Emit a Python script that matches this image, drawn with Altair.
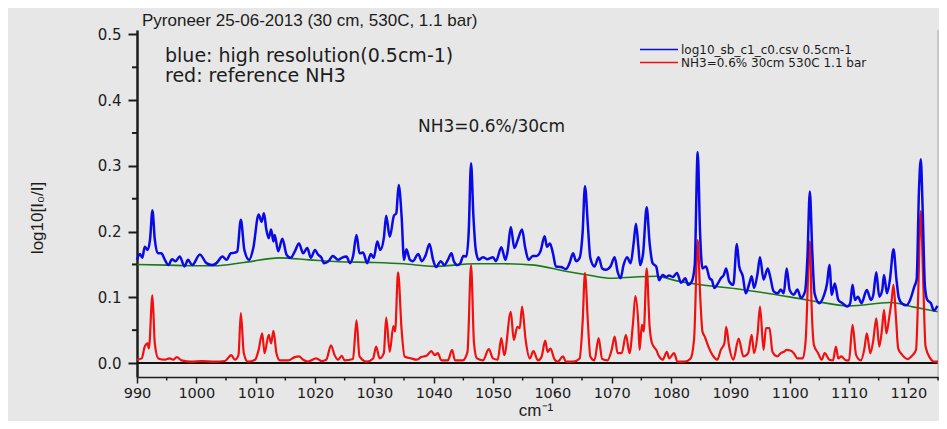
import altair as alt
import pandas as pd

# ---------------- data ----------------
blue_x = [990.0, 990.5, 990.9, 991.3, 991.8, 992.2, 992.6, 993.0, 993.5, 994.1, 994.7, 995.3, 995.9, 996.5,
          997.2, 998.0, 998.6, 999.3, 1000.6, 1001.7, 1002.7, 1003.4, 1004.4, 1005.1, 1005.8, 1006.5, 1006.9,
          1007.5, 1008.1, 1008.9, 1009.6, 1010.5, 1011.0, 1011.4, 1011.8, 1012.2, 1012.6, 1013.0, 1013.2,
          1013.8, 1014.5, 1015.2, 1015.9, 1016.6, 1017.3, 1018.0, 1018.7, 1019.3, 1020.0, 1020.5, 1021.1,
          1021.5, 1022.3, 1023.0, 1023.9, 1024.5, 1025.3, 1025.9, 1026.4, 1027.0, 1027.5, 1028.1, 1028.8,
          1029.4, 1029.9, 1030.5, 1031.0, 1031.6, 1032.0, 1032.6, 1033.3, 1033.7, 1034.1, 1034.6, 1035.0,
          1035.4, 1036.0, 1036.5, 1037.4, 1038.0, 1038.6, 1039.3, 1039.9, 1040.4, 1041.2, 1041.8, 1042.4,
          1043.0, 1043.4, 1044.0, 1044.5, 1045.0, 1045.5, 1045.9, 1046.3, 1046.7, 1047.1, 1047.6, 1048.3,
          1049.1, 1050.0, 1050.5, 1051.4, 1052.1, 1052.5, 1053.0, 1053.6, 1054.2, 1054.9, 1055.4, 1056.0,
          1056.7, 1057.4, 1058.0, 1058.7, 1059.1, 1059.6, 1060.1, 1060.6, 1061.5, 1062.3, 1062.9, 1063.5,
          1064.0, 1064.6, 1065.1, 1065.5, 1066.0, 1066.4, 1067.1, 1067.8, 1068.4, 1069.0, 1069.8, 1070.5,
          1071.0, 1071.5, 1072.0, 1072.6, 1073.2, 1073.7, 1074.1, 1074.5, 1074.8, 1075.3, 1075.9, 1076.4,
          1076.9, 1077.5, 1078.0, 1078.6, 1079.2, 1079.7, 1080.3, 1081.0, 1081.7, 1082.4, 1082.9, 1083.5,
          1084.0, 1084.5, 1084.9, 1085.3, 1085.9, 1086.5, 1086.9, 1087.3, 1087.9, 1088.4, 1088.9, 1089.3,
          1089.8, 1090.5, 1091.1, 1091.5, 1092.1, 1092.6, 1093.2, 1093.6, 1094.0, 1094.6, 1095.0, 1095.6,
          1096.3, 1096.7, 1097.3, 1098.0, 1098.5, 1099.0, 1099.5, 1100.0, 1100.7, 1101.3, 1101.9, 1102.6,
          1103.0, 1103.4, 1103.8, 1104.2, 1105.0, 1105.7, 1106.3, 1106.7, 1107.1, 1107.6, 1108.2, 1108.9,
          1109.7, 1110.2, 1110.6, 1111.0, 1111.5, 1112.1, 1113.0, 1113.7, 1114.1, 1114.6, 1115.1, 1115.6,
          1115.9, 1116.4, 1116.9, 1117.5, 1118.0, 1118.4, 1119.0, 1119.7, 1120.3, 1121.0, 1121.4, 1121.8,
          1122.1, 1122.4, 1122.8, 1123.2, 1123.8, 1124.3, 1124.9]
blue_y = [0.157, 0.166, 0.160, 0.177, 0.172, 0.188, 0.232, 0.188, 0.167, 0.167, 0.157, 0.149, 0.158, 0.155,
          0.162, 0.147, 0.157, 0.149, 0.165, 0.152, 0.149, 0.152, 0.162, 0.157, 0.167, 0.168, 0.170,
          0.218, 0.172, 0.157, 0.175, 0.226, 0.215, 0.228, 0.203, 0.190, 0.203, 0.185, 0.195,
          0.170, 0.189, 0.165, 0.160, 0.170, 0.182, 0.167, 0.175, 0.160, 0.172, 0.165, 0.160,
          0.152, 0.155, 0.163, 0.157, 0.160, 0.162, 0.152, 0.162, 0.195, 0.167, 0.168, 0.152,
          0.166, 0.160, 0.185, 0.172, 0.190, 0.224, 0.192, 0.224, 0.228, 0.271, 0.223, 0.157,
          0.173, 0.157, 0.155, 0.166, 0.155, 0.163, 0.181, 0.157, 0.146, 0.155, 0.149, 0.157,
          0.167, 0.155, 0.149, 0.152, 0.163, 0.162, 0.198, 0.304, 0.223, 0.172, 0.157, 0.161,
          0.158, 0.161, 0.155, 0.176, 0.157, 0.172, 0.207, 0.175, 0.188, 0.203, 0.177, 0.157,
          0.163, 0.163, 0.170, 0.193, 0.177, 0.182, 0.167, 0.147, 0.146, 0.143, 0.152, 0.167,
          0.155, 0.160, 0.198, 0.269, 0.208, 0.160, 0.147, 0.161, 0.144, 0.142, 0.147, 0.161,
          0.139, 0.129, 0.149, 0.161, 0.152, 0.182, 0.212, 0.177, 0.149, 0.167, 0.237, 0.182,
          0.152, 0.147, 0.126, 0.134, 0.131, 0.133, 0.131, 0.137, 0.122, 0.129, 0.119, 0.124,
          0.149, 0.321, 0.198, 0.144, 0.147, 0.129, 0.126, 0.114, 0.121, 0.129, 0.134, 0.144,
          0.124, 0.119, 0.181, 0.147, 0.132, 0.106, 0.121, 0.132, 0.114, 0.137, 0.161, 0.127,
          0.144, 0.132, 0.109, 0.106, 0.112, 0.106, 0.144, 0.111, 0.104, 0.112, 0.099, 0.109,
          0.162, 0.261, 0.172, 0.106, 0.091, 0.101, 0.121, 0.149, 0.104, 0.121, 0.096, 0.091,
          0.086, 0.091, 0.119, 0.096, 0.101, 0.091, 0.111, 0.096, 0.104, 0.138, 0.101, 0.111,
          0.134, 0.106, 0.127, 0.173, 0.127, 0.099, 0.090, 0.088, 0.096, 0.116, 0.127, 0.264,
          0.310, 0.238, 0.116, 0.096, 0.091, 0.080, 0.087]

red_x = [990.0, 990.8, 991.3, 991.8, 992.0, 992.6, 993.0, 993.6, 994.7, 995.5, 996.1, 996.7, 997.5, 999.2,
         1000.9, 1003.1, 1004.8, 1005.9, 1006.5, 1007.1, 1007.5, 1008.0, 1008.7, 1009.9, 1010.5, 1011.1,
         1011.5, 1012.2, 1012.6, 1013.0, 1013.5, 1014.1, 1015.5, 1016.6, 1017.3, 1018.0, 1018.8, 1020.2,
         1021.1, 1021.9, 1022.7, 1023.3, 1023.9, 1024.5, 1025.0, 1026.4, 1027.0, 1027.5, 1028.7, 1029.8,
         1030.3, 1030.9, 1031.6, 1032.0, 1032.6, 1033.2, 1033.5, 1034.0, 1034.6, 1035.1, 1036.2, 1037.1,
         1037.9, 1038.8, 1039.6, 1040.2, 1040.7, 1041.3, 1042.4, 1043.1, 1043.6, 1044.9, 1045.7, 1046.3,
         1046.8, 1047.3, 1048.3, 1049.3, 1050.0, 1050.8, 1051.4, 1051.9, 1053.0, 1053.5, 1054.1, 1054.5,
         1054.9, 1055.5, 1056.2, 1056.8, 1057.6, 1058.2, 1058.8, 1059.2, 1059.7, 1060.3, 1060.9, 1061.8,
         1062.3, 1063.5, 1064.6, 1065.1, 1065.5, 1066.0, 1066.4, 1067.1, 1067.8, 1068.4, 1069.3, 1070.0,
         1070.5, 1071.0, 1071.7, 1072.4, 1073.0, 1073.6, 1074.0, 1074.5, 1074.7, 1075.1, 1075.4, 1075.9,
         1076.4, 1076.8, 1077.5, 1078.0, 1078.6, 1079.3, 1079.7, 1080.5, 1081.1, 1082.3, 1083.3, 1083.9,
         1084.5, 1084.9, 1085.3, 1085.7, 1086.3, 1087.0, 1087.8, 1088.4, 1089.0, 1089.3, 1089.8, 1090.5,
         1091.4, 1092.2, 1093.0, 1093.6, 1094.0, 1094.6, 1095.0, 1095.6, 1096.0, 1096.6, 1097.1, 1097.9,
         1098.5, 1099.0, 1099.5, 1100.1, 1100.7, 1101.3, 1102.2, 1102.7, 1103.4, 1103.7, 1104.1, 1104.8,
         1105.4, 1105.9, 1106.7, 1107.3, 1107.8, 1108.2, 1108.7, 1109.5, 1110.0, 1110.6, 1111.2, 1112.0,
         1112.6, 1113.0, 1113.6, 1114.1, 1114.6, 1115.1, 1115.6, 1115.9, 1116.3, 1116.8, 1117.2, 1117.5,
         1117.9, 1118.3, 1119.0, 1119.9, 1120.5, 1121.3, 1121.6, 1122.1, 1122.5, 1122.9, 1123.7, 1124.3,
         1125.0]
red_y = [0.005, 0.007, 0.025, 0.030, 0.022, 0.103, 0.030, 0.007, 0.005, 0.007, 0.005, 0.009, 0.004, 0.002,
         0.003, 0.002, 0.003, 0.012, 0.005, 0.012, 0.076, 0.015, 0.002, 0.005, 0.020, 0.045,
         0.015, 0.043, 0.030, 0.049, 0.015, 0.004, 0.004, 0.009, 0.010, 0.005, 0.002, 0.007,
         0.003, 0.005, 0.027, 0.012, 0.005, 0.011, 0.004, 0.006, 0.065, 0.010, 0.002, 0.007,
         0.025, 0.007, 0.015, 0.069, 0.017, 0.056, 0.048, 0.138, 0.050, 0.010, 0.007, 0.005,
         0.009, 0.011, 0.018, 0.012, 0.015, 0.004, 0.004, 0.020, 0.004, 0.004, 0.017, 0.149,
         0.030, 0.007, 0.004, 0.021, 0.007, 0.005, 0.038, 0.012, 0.078, 0.035, 0.055, 0.053,
         0.086, 0.035, 0.007, 0.018, 0.004, 0.010, 0.034, 0.017, 0.022, 0.007, 0.002, 0.010,
         0.002, 0.002, 0.007, 0.061, 0.137, 0.061, 0.010, 0.004, 0.038, 0.006, 0.004, 0.020,
         0.040, 0.015, 0.015, 0.043, 0.015, 0.061, 0.102, 0.058, 0.020, 0.058, 0.048, 0.144,
         0.055, 0.030, 0.020, 0.010, 0.005, 0.017, 0.007, 0.015, 0.002, 0.002, 0.007, 0.038,
         0.187, 0.106, 0.048, 0.040, 0.025, 0.012, 0.005, 0.020, 0.030, 0.055, 0.025, 0.005,
         0.037, 0.010, 0.015, 0.043, 0.015, 0.045, 0.086, 0.020, 0.053, 0.053, 0.017, 0.010,
         0.015, 0.017, 0.020, 0.019, 0.015, 0.007, 0.007, 0.035, 0.185, 0.086, 0.027, 0.015,
         0.005, 0.015, 0.005, 0.004, 0.025, 0.007, 0.010, 0.004, 0.004, 0.058, 0.012, 0.004,
         0.022, 0.045, 0.015, 0.035, 0.068, 0.025, 0.055, 0.081, 0.045, 0.071, 0.096, 0.119,
         0.071, 0.022, 0.012, 0.006, 0.010, 0.020, 0.086, 0.231, 0.127, 0.025, 0.007, 0.002,
         0.002]

green_x = [990, 995, 1000, 1003, 1008, 1014, 1019, 1024, 1030, 1035, 1040, 1047, 1052, 1057, 1062, 1066,
           1070, 1074, 1077.5, 1081, 1085, 1091, 1097, 1103, 1110, 1117, 1121, 1125]
green_y = [0.150, 0.149, 0.148, 0.148, 0.153, 0.160, 0.157, 0.154, 0.153, 0.151, 0.147, 0.151, 0.151,
           0.149, 0.140, 0.134, 0.129, 0.131, 0.132, 0.125, 0.119, 0.113, 0.105, 0.096, 0.087, 0.092,
           0.085, 0.078]

x_major = [990, 1000, 1010, 1020, 1030, 1040, 1050, 1060, 1070, 1080, 1090, 1100, 1110, 1120]
x_minor = [995, 1005, 1015, 1025, 1035, 1045, 1055, 1065, 1075, 1085, 1095, 1105, 1115, 1125]
y_major = [0.0, 0.1, 0.2, 0.3, 0.4, 0.5]
y_minor = [0.05, 0.15, 0.25, 0.35, 0.45]

title_text = "Pyroneer 25-06-2013 (30 cm, 530C, 1.1 bar)"
note_lines = ["blue: high resolution(0.5cm-1)", "red: reference NH3"]
note_nh3 = "NH3=0.6%/30cm"
legend_labels = ["log10_sb_c1_c0.csv 0.5cm-1", "NH3=0.6% 30cm 530C 1.1 bar"]
y_title = "log10[I\u2080/I]"
x_title = "cm\u207b\u00b9"

# ---------------- styling ----------------
W, H = 801, 347
BLUE, RED, GREEN = "#0a0ae6", "#f01010", "#197a19"
INK = "#1c1c1c"
WIDE = "DejaVu Sans"
ARIAL = "Liberation Sans"

xs = alt.Scale(domain=[990, 1125], nice=False, zero=False)
ys = alt.Scale(domain=[-0.0213, 0.5068], nice=False, zero=False)

x_axis = alt.Axis(values=x_major, format="d", tickSize=6, tickWidth=1.5, tickColor=INK,
                  domainColor=INK, domainWidth=1.5, labelFont=WIDE, labelFontSize=14.5,
                  labelColor=INK, labelPadding=3, labelFlush=False, labelOverlap=False,
                  grid=False, title=None)
y_axis = alt.Axis(values=y_major, format=".1f", tickSize=9, tickWidth=2, tickColor=INK,
                  domainColor=INK, domainWidth=2.5, labelFont=WIDE, labelFontSize=15,
                  labelColor=INK, labelPadding=7, labelFlush=False, labelOverlap=False,
                  grid=False, title=None)


def X(field="x"):
    return alt.X(f"{field}:Q", scale=xs, axis=x_axis)


def Y(field="y"):
    return alt.Y(f"{field}:Q", scale=ys, axis=y_axis)


df_blue = pd.DataFrame({"x": blue_x, "y": blue_y})
df_red = pd.DataFrame({"x": red_x, "y": red_y})
df_green = pd.DataFrame({"x": green_x, "y": green_y})

green_line = alt.Chart(df_green).mark_line(color=GREEN, strokeWidth=1.6, interpolate="monotone").encode(
    x=X(), y=Y())
red_line = alt.Chart(df_red).mark_line(color=RED, strokeWidth=2.2, interpolate="monotone",
                                       strokeJoin="round").encode(x=X(), y=Y())
blue_line = alt.Chart(df_blue).mark_line(color=BLUE, strokeWidth=2.5, interpolate="monotone",
                                         strokeJoin="round").encode(x=X(), y=Y())

zero_rule = alt.Chart(pd.DataFrame({"y": [0.0]})).mark_rule(color="#111111", strokeWidth=2).encode(y=Y())
right_rule = alt.Chart(pd.DataFrame({"x": [1125]})).mark_rule(color="#a6a6a6", strokeWidth=1).encode(x=X())

x_minor_ticks = alt.Chart(pd.DataFrame({"x": x_minor})).mark_rule(color=INK, strokeWidth=1.5).encode(
    x=X(), y=alt.value(H), y2=alt.value(H + 3.5))
y_minor_ticks = alt.Chart(pd.DataFrame({"y": y_minor})).mark_rule(color=INK, strokeWidth=2).encode(
    y=Y(), x=alt.value(-5), x2=alt.value(0))


def label(text, x, y, size, font=WIDE, color=INK, align="left", baseline="alphabetic", angle=0):
    return alt.Chart(pd.DataFrame({"t": [text]})).mark_text(
        font=font, fontSize=size, color=color, align=align, baseline=baseline, angle=angle
    ).encode(text="t:N", x=alt.value(x), y=alt.value(y))


texts = [
    label(title_text, 5, -4, 17, font=ARIAL),
    label(note_lines[0], 28, 31.5, 19),
    label(note_lines[1], 28, 51.5, 19),
    label(note_nh3, 281, 101.5, 17),
    label(legend_labels[0], 544, 24, 12),
    label(legend_labels[1], 544, 37, 12),
    label(y_title, -99, 188, 17, font=ARIAL, align="center", baseline="middle", angle=270),
    label(x_title, 399, 386, 17, font=ARIAL, align="center"),
]

legend_blue = alt.Chart(pd.DataFrame({"k": [0]})).mark_rule(color=BLUE, strokeWidth=1.6).encode(
    x=alt.value(503), x2=alt.value(541), y=alt.value(19.5))
legend_red = alt.Chart(pd.DataFrame({"k": [0]})).mark_rule(color=RED, strokeWidth=1.6).encode(
    x=alt.value(503), x2=alt.value(541), y=alt.value(32.5))

chart = alt.layer(
    green_line, zero_rule, right_rule, x_minor_ticks, y_minor_ticks,
    red_line, blue_line, legend_blue, legend_red, *texts
).properties(
    width=W, height=H,
    padding={"left": 129, "top": 22, "right": 1, "bottom": 44},
    autosize=alt.AutoSizeParams(type="none"),
    background="#e7e7e7",
).configure_view(stroke=None)

chart.save("out.html", embed_options={"renderer": "svg", "actions": False})
